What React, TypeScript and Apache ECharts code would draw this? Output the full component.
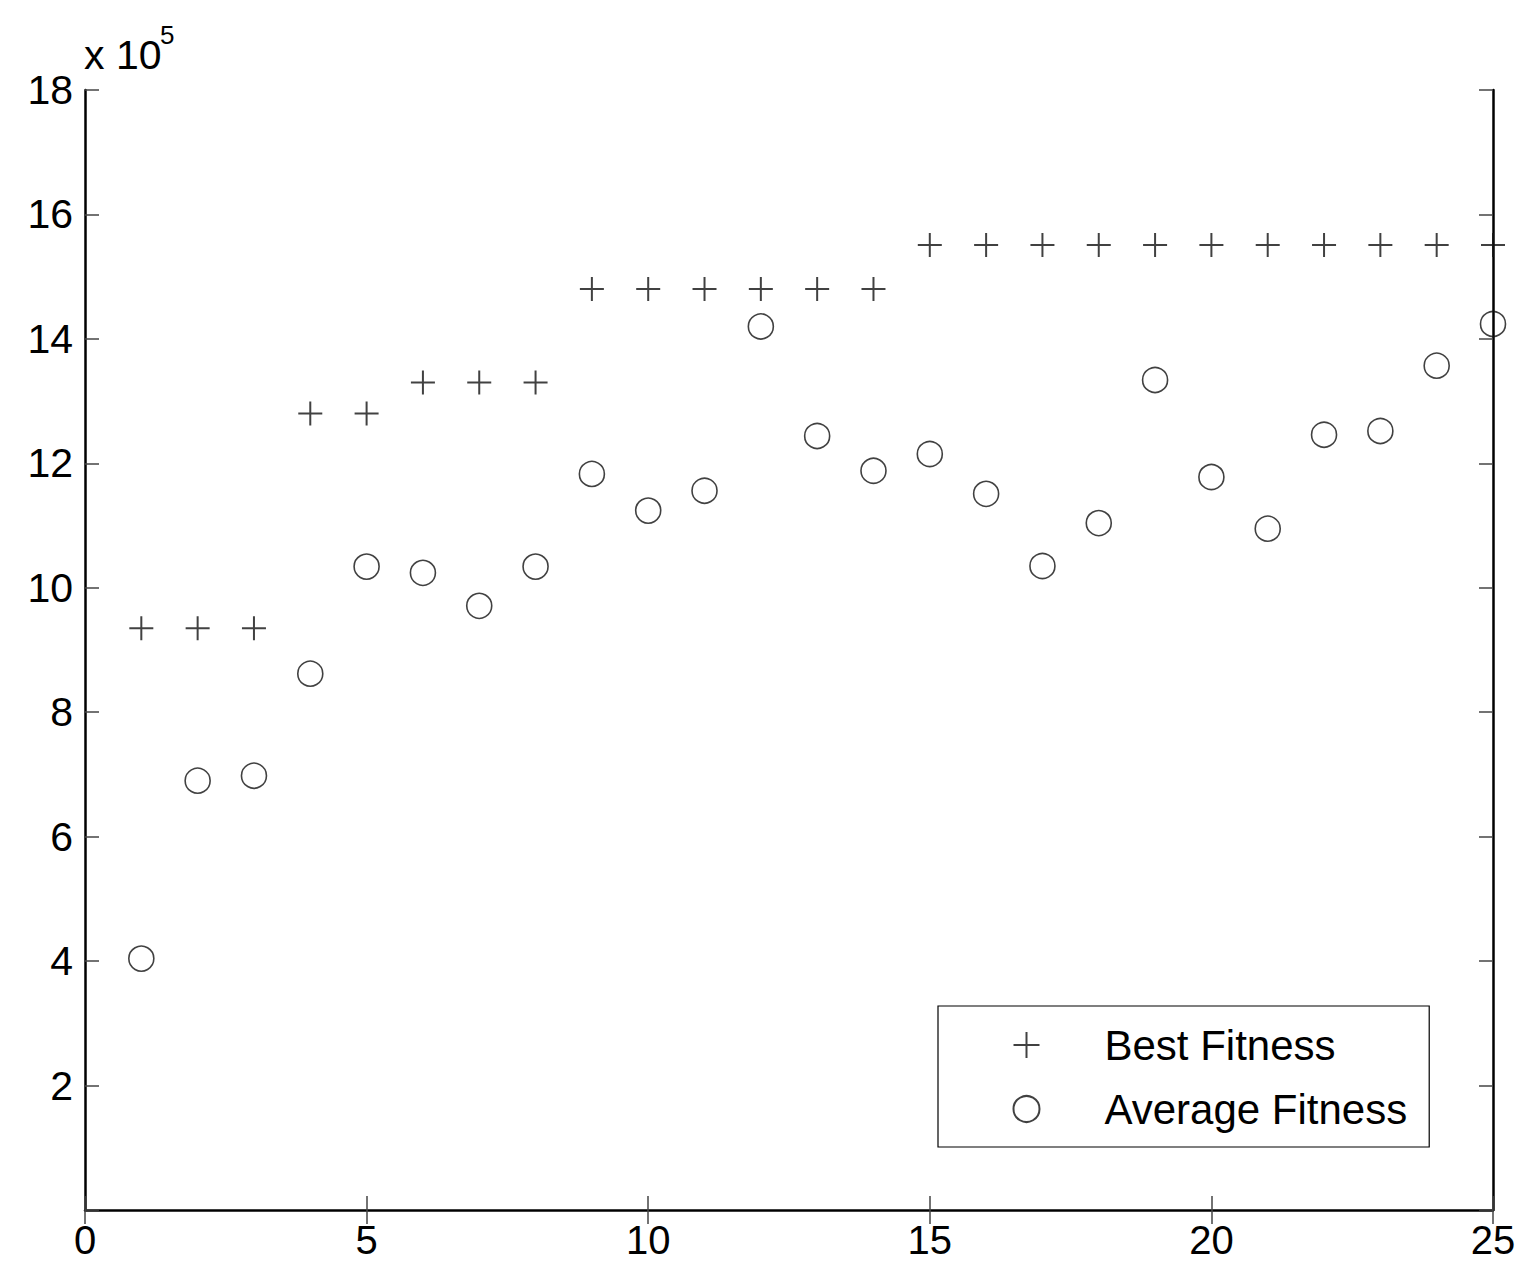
import React, { useEffect, useRef } from "react";
import * as echarts from "echarts";

const generations = [1, 2, 3, 4, 5, 6, 7, 8, 9, 10, 11, 12, 13, 14, 15, 16, 17, 18, 19, 20, 21, 22, 23, 24, 25];
// values in units of 10^5
const bestFitness = [9.35, 9.35, 9.35, 12.8, 12.8, 13.3, 13.3, 13.3, 14.8, 14.8, 14.8, 14.8, 14.8, 14.8, 15.51, 15.51, 15.51, 15.51, 15.51, 15.51, 15.51, 15.51, 15.51, 15.51, 15.51];
const averageFitness = [4.04, 6.9, 6.98, 8.62, 10.34, 10.24, 9.71, 10.34, 11.83, 11.24, 11.56, 14.2, 12.44, 11.88, 12.15, 11.51, 10.35, 11.04, 13.34, 11.78, 10.95, 12.46, 12.52, 13.57, 14.24];
const xTicks = [0, 5, 10, 15, 20, 25];
const yTicks = [2, 4, 6, 8, 10, 12, 14, 16, 18];

const FONT = "Liberation Sans, Arial, sans-serif";
const PLUS = "path://M0,12L24,12M12,0L12,24";

export default function App() {
  const ref = useRef<HTMLDivElement>(null);
  useEffect(() => {
    if (!ref.current) return;
    const chart = echarts.init(ref.current, undefined, { renderer: "svg" });
    const axisCommon = {
      type: "value" as const,
      splitLine: { show: false },
      axisTick: { show: true, inside: true, length: 14, lineStyle: { color: "#444", width: 1.5 } },
    };
    chart.setOption({
      animation: false,
      backgroundColor: "#fff",
      grid: { left: 85, right: 26, top: 90, bottom: 54, containLabel: false },
      xAxis: [
        {
          ...axisCommon,
          min: 0,
          max: 25,
          interval: 5,
          position: "bottom",
          axisLine: { show: true, onZero: false, lineStyle: { color: "#000", width: 2.5 } },
          axisLabel: {
            show: true,
            color: "#000",
            fontFamily: FONT,
            fontSize: 40,
            margin: 10,
            formatter: (v: number) => (xTicks.includes(v) ? String(v) : ""),
          },
        },
        {
          ...axisCommon,
          min: 0,
          max: 25,
          interval: 5,
          position: "top",
          axisLine: { show: false },
          axisLabel: { show: false },
        },
      ],
      yAxis: [
        {
          ...axisCommon,
          min: 0,
          max: 18,
          interval: 2,
          position: "left",
          axisLine: { show: true, onZero: false, lineStyle: { color: "#000", width: 2.5 } },
          axisLabel: {
            show: true,
            color: "#000",
            fontFamily: FONT,
            fontSize: 41,
            margin: 12,
            formatter: (v: number) => (yTicks.includes(v) ? String(v) : ""),
          },
        },
        {
          ...axisCommon,
          min: 0,
          max: 18,
          interval: 2,
          position: "right",
          axisLine: { show: true, onZero: false, lineStyle: { color: "#000", width: 2.5 } },
          axisLabel: { show: false },
        },
      ],
      legend: {
        orient: "vertical",
        left: 938,
        top: 1006,
        width: 492,
        padding: [18, 22, 17, 73],
        borderColor: "#000",
        borderWidth: 1.2,
        backgroundColor: "#fff",
        itemWidth: 30,
        itemHeight: 26,
        itemGap: 22,
        textStyle: {
          fontFamily: FONT,
          fontSize: 42,
          lineHeight: 40,
          color: "#000",
          padding: [0, 0, 0, 58],
        },
        data: ["Best Fitness", "Average Fitness"],
      },
      graphic: [
        {
          type: "text",
          left: 84,
          top: 34,
          style: {
            text: "x 10",
            font: `41px ${FONT}`,
            fill: "#000",
          },
        },
        {
          type: "text",
          left: 160,
          top: 22,
          style: {
            text: "5",
            font: `26px ${FONT}`,
            fill: "#000",
          },
        },
      ],
      series: [
        {
          name: "Best Fitness",
          type: "scatter",
          clip: false,
          symbol: PLUS,
          symbolSize: 24,
          itemStyle: { color: "none", borderColor: "#111", borderWidth: 2 },
          data: generations.map((g, i) => [g, bestFitness[i]]),
        },
        {
          name: "Average Fitness",
          type: "scatter",
          clip: false,
          symbol: "circle",
          symbolSize: 25,
          itemStyle: { color: "none", borderColor: "#111", borderWidth: 1.6 },
          data: generations.map((g, i) => [g, averageFitness[i]]),
        },
      ],
    });
    return () => chart.dispose();
  }, []);
  return (
    <div
      ref={ref}
      style={{ position: "fixed", left: 0, top: 0, width: 1519, height: 1264, background: "#fff" }}
    />
  );
}
